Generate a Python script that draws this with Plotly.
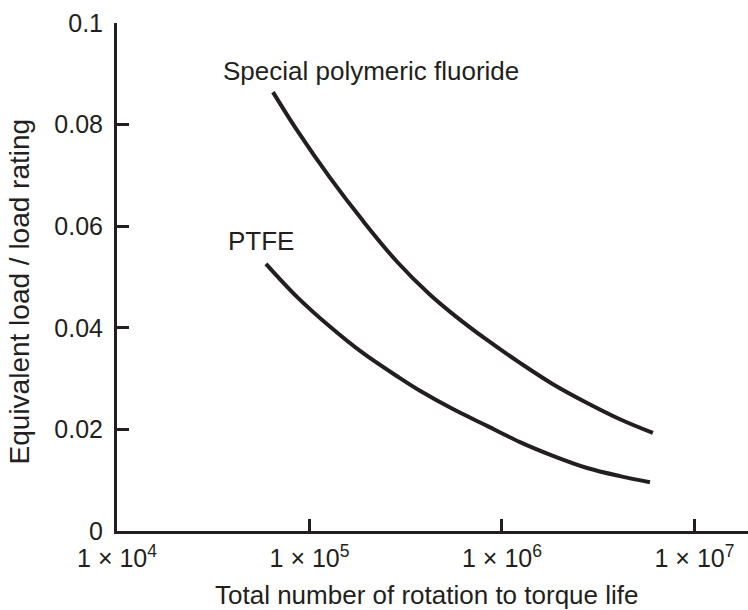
import plotly.graph_objects as go

# Torque life curves: equivalent load ratio vs total rotations
special_x = [6.46e4, 8.61e4, 1.28e5, 1.90e5, 2.85e5, 4.23e5, 5.56e5, 8.36e5,
             1.24e6, 1.84e6, 2.77e6, 4.10e6, 6.08e6]
special_y = [0.0864, 0.0789, 0.0695, 0.0610, 0.0530, 0.0465, 0.0427, 0.0376,
             0.0331, 0.0289, 0.0252, 0.0220, 0.0193]

ptfe_x = [5.94e4, 8.61e4, 1.28e5, 1.90e5, 2.95e5, 3.75e5, 5.56e5, 8.36e5,
          1.24e6, 1.84e6, 2.77e6, 4.10e6, 5.87e6]
ptfe_y = [0.0526, 0.0461, 0.0402, 0.0350, 0.0301, 0.0276, 0.0240, 0.0207,
          0.0175, 0.0148, 0.0124, 0.0108, 0.0096]

x_tick_vals = [1e4, 1e5, 1e6, 1e7]
x_tick_text = ["1 × 10<sup>4</sup>", "1 × 10<sup>5</sup>",
               "1 × 10<sup>6</sup>", "1 × 10<sup>7</sup>"]
y_tick_vals = [0, 0.02, 0.04, 0.06, 0.08, 0.1]
y_tick_text = ["0", "0.02", "0.04", "0.06", "0.08", "0.1"]

INK = "#231f20"
FONT = "Liberation Sans, Arial, sans-serif"

fig = go.Figure()
for xs, ys in [(special_x, special_y), (ptfe_x, ptfe_y)]:
    fig.add_trace(go.Scatter(
        x=xs, y=ys, mode="lines",
        line=dict(color=INK, width=4, shape="spline", smoothing=1.0),
        showlegend=False, hoverinfo="skip"))

fig.add_annotation(x=4.540, y=0.0906, xref="x", yref="y", text="Special polymeric fluoride",
                   showarrow=False, xanchor="left", yanchor="middle",
                   font=dict(size=26, color=INK, family=FONT))
fig.add_annotation(x=4.566, y=0.0571, xref="x", yref="y", text="PTFE",
                   showarrow=False, xanchor="left", yanchor="middle",
                   font=dict(size=26, color=INK, family=FONT))

fig.add_annotation(x=0.491, y=-0.125, xref="paper", yref="paper",
                   text="Total number of rotation to torque life",
                   showarrow=False, xanchor="center", yanchor="middle",
                   font=dict(size=26, color=INK, family=FONT))
fig.add_annotation(x=-0.155, y=0.472, xref="paper", yref="paper",
                   text="Equivalent load / load rating", textangle=-90,
                   showarrow=False, xanchor="center", yanchor="middle",
                   font=dict(size=28, color=INK, family=FONT))

fig.update_layout(
    width=748, height=610,
    margin=dict(l=117, r=0, t=23, b=79),
    paper_bgcolor="white", plot_bgcolor="white",
    font=dict(family=FONT, size=26, color=INK),
    xaxis=dict(type="log", range=[4, 7.278], tickvals=x_tick_vals, ticktext=x_tick_text,
               ticks="inside", ticklen=12, tickwidth=2.5, tickcolor=INK,
               showline=True, linecolor=INK, linewidth=3, showgrid=False, zeroline=False,
               ticklabelstandoff=3,
               tickfont=dict(size=25, color=INK)),
    yaxis=dict(range=[0, 0.1], tickvals=y_tick_vals, ticktext=y_tick_text,
               ticks="inside", ticklen=12, tickwidth=2.5, tickcolor=INK,
               showline=True, linecolor=INK, linewidth=3, showgrid=False, zeroline=False,
               ticklabelstandoff=6,
               tickfont=dict(size=25, color=INK)),
)

fig.write_html("out.html")
